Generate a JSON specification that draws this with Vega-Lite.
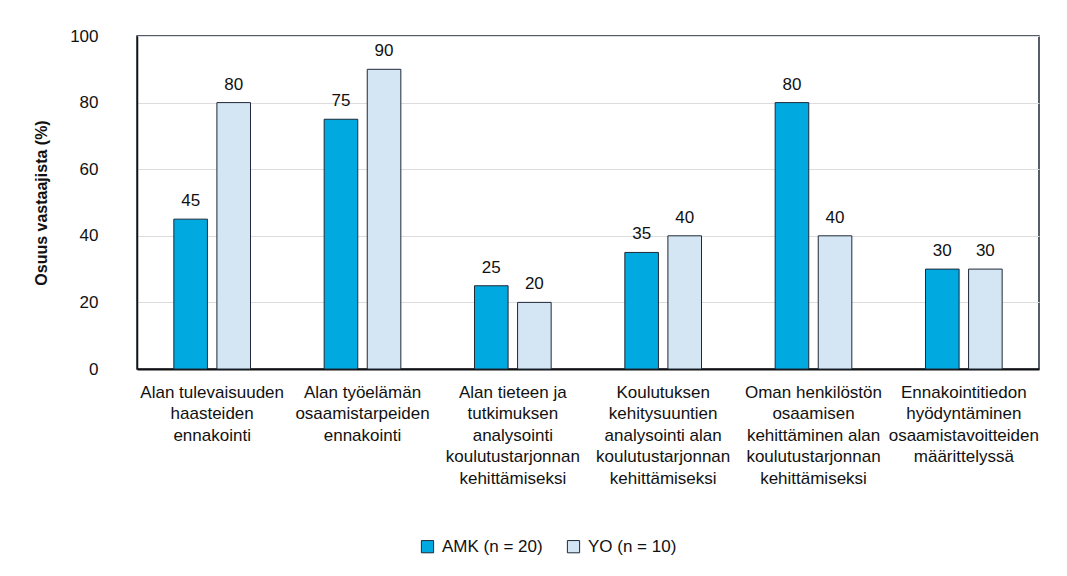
{
  "$schema": "https://vega.github.io/schema/vega-lite/v6.json",
  "autosize": "none",
  "width": 902,
  "height": 333,
  "padding": {"left": 137, "top": 36, "right": 28, "bottom": 207},
  "background": "white",
  "config": {
    "font": "Liberation Sans",
    "view": {"stroke": "#1f2937", "strokeWidth": 1.5},
    "axis": {"labelFont": "Liberation Sans", "titleFont": "Liberation Sans", "labelColor": "#111111", "titleColor": "#111111"}
  },
  "data": {"values": [
    {"cat": "Alan tulevaisuuden|haasteiden|ennakointi", "group": "AMK (n = 20)", "value": 45},
    {"cat": "Alan tulevaisuuden|haasteiden|ennakointi", "group": "YO (n = 10)", "value": 80},
    {"cat": "Alan työelämän|osaamistarpeiden|ennakointi", "group": "AMK (n = 20)", "value": 75},
    {"cat": "Alan työelämän|osaamistarpeiden|ennakointi", "group": "YO (n = 10)", "value": 90},
    {"cat": "Alan tieteen ja|tutkimuksen|analysointi|koulutustarjonnan|kehittämiseksi", "group": "AMK (n = 20)", "value": 25},
    {"cat": "Alan tieteen ja|tutkimuksen|analysointi|koulutustarjonnan|kehittämiseksi", "group": "YO (n = 10)", "value": 20},
    {"cat": "Koulutuksen|kehitysuuntien|analysointi alan|koulutustarjonnan|kehittämiseksi", "group": "AMK (n = 20)", "value": 35},
    {"cat": "Koulutuksen|kehitysuuntien|analysointi alan|koulutustarjonnan|kehittämiseksi", "group": "YO (n = 10)", "value": 40},
    {"cat": "Oman henkilöstön|osaamisen|kehittäminen alan|koulutustarjonnan|kehittämiseksi", "group": "AMK (n = 20)", "value": 80},
    {"cat": "Oman henkilöstön|osaamisen|kehittäminen alan|koulutustarjonnan|kehittämiseksi", "group": "YO (n = 10)", "value": 40},
    {"cat": "Ennakointitiedon|hyödyntäminen|osaamistavoitteiden|määrittelyssä", "group": "AMK (n = 20)", "value": 30},
    {"cat": "Ennakointitiedon|hyödyntäminen|osaamistavoitteiden|määrittelyssä", "group": "YO (n = 10)", "value": 30}
  ]},
  "encoding": {
    "x": {
      "field": "cat", "type": "nominal", "sort": null,
      "scale": {"paddingInner": 0.49, "paddingOuter": 0.245},
      "axis": {
        "title": null, "labelAngle": 0, "labelExpr": "split(datum.label, '|')",
        "labelFontSize": 17, "labelLineHeight": 21.5, "labelPadding": 15,
        "labelBaseline": "top", "labelLimit": 200,
        "ticks": false, "domainColor": "#111111", "domainWidth": 2, "grid": false
      }
    },
    "xOffset": {"field": "group", "type": "nominal", "scale": {"paddingInner": 0.22}},
    "y": {
      "field": "value", "type": "quantitative",
      "scale": {"domain": [0, 100]},
      "axis": {
        "title": "Osuus vastaajista (%)", "titleFontSize": 16, "titleFontWeight": "bold",
        "titlePadding": 20,
        "values": [0, 20, 40, 60, 80, 100], "labelFontSize": 17, "labelPadding": 39,
        "ticks": false, "domainColor": "#111111", "domainWidth": 1.5,
        "grid": true, "gridColor": "#dcdcdc", "gridWidth": 1
      }
    }
  },
  "layer": [
    {
      "mark": {"type": "bar", "stroke": "#1f2937", "strokeWidth": 1},
      "encoding": {
        "color": {
          "field": "group", "type": "nominal",
          "scale": {"domain": ["AMK (n = 20)", "YO (n = 10)"], "range": ["#00a9e0", "#d4e5f3"]},
          "legend": {
            "title": null, "orient": "none", "direction": "horizontal",
            "legendX": 282, "legendY": 502,
            "symbolType": "square", "symbolSize": 150, "symbolStrokeColor": "#1f2937", "symbolStrokeWidth": 1,
            "labelFontSize": 17, "labelColor": "#111111", "columnPadding": 22, "labelOffset": 6, "symbolOpacity": 1
          }
        }
      }
    },
    {
      "mark": {"type": "text", "baseline": "alphabetic", "dy": -13, "fontSize": 17, "color": "#111111"},
      "encoding": {"text": {"field": "value", "type": "quantitative"}}
    }
  ]
}
